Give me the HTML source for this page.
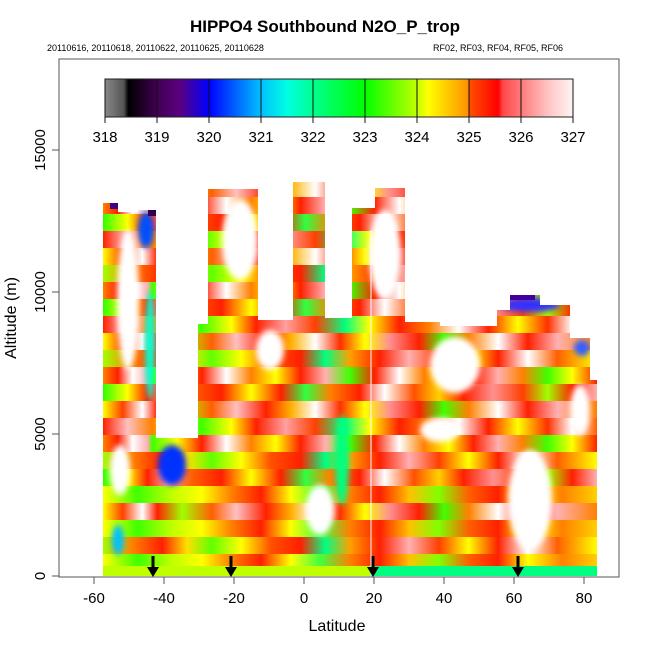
<!DOCTYPE html>
<html><head><meta charset="utf-8"><style>
body{margin:0;background:#fff;}
svg text{font-family:"Liberation Sans",sans-serif;}
</style></head><body>
<svg width="650" height="650" xmlns="http://www.w3.org/2000/svg">
<defs>
<linearGradient id="cb" x1="0" x2="1">
<stop offset="0" stop-color="#888"/><stop offset="0.04" stop-color="#555"/><stop offset="0.05" stop-color="#000"/>
<stop offset="0.111" stop-color="#400050"/><stop offset="0.16" stop-color="#5a0080"/><stop offset="0.222" stop-color="#0000ff"/>
<stop offset="0.333" stop-color="#00c0ff"/><stop offset="0.39" stop-color="#00ffe0"/><stop offset="0.444" stop-color="#00ff90"/>
<stop offset="0.555" stop-color="#00ff00"/><stop offset="0.666" stop-color="#c0ff00"/><stop offset="0.69" stop-color="#ffff00"/>
<stop offset="0.777" stop-color="#ff9000"/><stop offset="0.778" stop-color="#ff5000"/><stop offset="0.84" stop-color="#ff0000"/>
<stop offset="0.85" stop-color="#ff4848"/><stop offset="0.9" stop-color="#ff8888"/><stop offset="0.95" stop-color="#ffc8c8"/><stop offset="1" stop-color="#fff4f4"/>
</linearGradient>
<linearGradient id="g1" gradientUnits="userSpaceOnUse" x1="103" x2="597">
<stop offset="0" stop-color="#ff8000"/><stop offset=".03" stop-color="#ff2000"/><stop offset=".06" stop-color="#fff"/><stop offset=".09" stop-color="#ffb0b0"/><stop offset=".1" stop-color="#40ff00"/><stop offset=".15" stop-color="#ffff00"/><stop offset=".2" stop-color="#ff2000"/><stop offset=".25" stop-color="#fff"/><stop offset=".3" stop-color="#ff8000"/><stop offset=".35" stop-color="#ffff00"/><stop offset=".4" stop-color="#ff2000"/><stop offset=".45" stop-color="#ffb0b0"/><stop offset=".5" stop-color="#40ff00"/><stop offset=".55" stop-color="#ff2000"/><stop offset=".6" stop-color="#fff"/><stop offset=".65" stop-color="#ff8000"/><stop offset=".7" stop-color="#ffff00"/><stop offset=".75" stop-color="#ff2000"/><stop offset=".8" stop-color="#ffb0b0"/><stop offset=".85" stop-color="#ff8000"/><stop offset=".9" stop-color="#40ff00"/><stop offset=".95" stop-color="#ffff00"/><stop offset="1" stop-color="#ff2000"/>
</linearGradient>
<linearGradient id="g2" gradientUnits="userSpaceOnUse" x1="103" x2="597">
<stop offset="0" stop-color="#ffff00"/><stop offset=".04" stop-color="#ff4000"/><stop offset=".08" stop-color="#fff"/><stop offset=".11" stop-color="#ff2000"/><stop offset=".16" stop-color="#a0ff00"/><stop offset=".22" stop-color="#ff6000"/><stop offset=".27" stop-color="#ffc0c0"/><stop offset=".33" stop-color="#ff2000"/><stop offset=".38" stop-color="#ffb000"/><stop offset=".43" stop-color="#fff"/><stop offset=".48" stop-color="#ff3000"/><stop offset=".53" stop-color="#ffff00"/><stop offset=".58" stop-color="#ff9090"/><stop offset=".64" stop-color="#ff2000"/><stop offset=".69" stop-color="#40ff00"/><stop offset=".74" stop-color="#ff8000"/><stop offset=".8" stop-color="#fff"/><stop offset=".86" stop-color="#ff2000"/><stop offset=".92" stop-color="#ffb0b0"/><stop offset="1" stop-color="#ff8000"/>
</linearGradient>
<linearGradient id="g3" gradientUnits="userSpaceOnUse" x1="103" x2="597">
<stop offset="0" stop-color="#30ff00"/><stop offset=".05" stop-color="#ffff00"/><stop offset=".09" stop-color="#ff2000"/><stop offset=".13" stop-color="#ffa0a0"/><stop offset=".18" stop-color="#ff6000"/><stop offset=".24" stop-color="#ff2000"/><stop offset=".3" stop-color="#ffff00"/><stop offset=".36" stop-color="#ff2000"/><stop offset=".41" stop-color="#30ff40"/><stop offset=".46" stop-color="#ff8000"/><stop offset=".52" stop-color="#ff2000"/><stop offset=".57" stop-color="#fff"/><stop offset=".63" stop-color="#ff5000"/><stop offset=".68" stop-color="#ffd000"/><stop offset=".73" stop-color="#ff2000"/><stop offset=".79" stop-color="#ff9090"/><stop offset=".85" stop-color="#ff4000"/><stop offset=".9" stop-color="#a0ff00"/><stop offset=".95" stop-color="#ff2000"/><stop offset="1" stop-color="#ffb0b0"/>
</linearGradient>
<linearGradient id="g4" gradientUnits="userSpaceOnUse" x1="103" x2="597">
<stop offset="0" stop-color="#ff2000"/><stop offset=".05" stop-color="#ffc0c0"/><stop offset=".1" stop-color="#ff8000"/><stop offset=".14" stop-color="#ffff00"/><stop offset=".2" stop-color="#40ff00"/><stop offset=".26" stop-color="#ffff00"/><stop offset=".31" stop-color="#ff2000"/><stop offset=".37" stop-color="#ffa0a0"/><stop offset=".43" stop-color="#ff4000"/><stop offset=".49" stop-color="#00ff80"/><stop offset=".54" stop-color="#ffff00"/><stop offset=".6" stop-color="#ff2000"/><stop offset=".66" stop-color="#ff8000"/><stop offset=".72" stop-color="#ffffff"/><stop offset=".78" stop-color="#ff2000"/><stop offset=".84" stop-color="#ffff00"/><stop offset=".9" stop-color="#ff3000"/><stop offset=".95" stop-color="#fff"/><stop offset="1" stop-color="#ff6000"/>
</linearGradient>
<linearGradient id="g5" gradientUnits="userSpaceOnUse" x1="103" x2="597">
<stop offset="0" stop-color="#a0ff00"/><stop offset=".06" stop-color="#ff8000"/><stop offset=".12" stop-color="#ff2000"/><stop offset=".17" stop-color="#ffe000"/><stop offset=".22" stop-color="#60ff00"/><stop offset=".28" stop-color="#ffff00"/><stop offset=".34" stop-color="#ff5000"/><stop offset=".4" stop-color="#ff2000"/><stop offset=".45" stop-color="#00ff80"/><stop offset=".5" stop-color="#ffa000"/><stop offset=".56" stop-color="#ff2000"/><stop offset=".62" stop-color="#ffb0b0"/><stop offset=".68" stop-color="#ff4000"/><stop offset=".74" stop-color="#ffff00"/><stop offset=".8" stop-color="#ff2000"/><stop offset=".86" stop-color="#fff"/><stop offset=".92" stop-color="#ff6000"/><stop offset="1" stop-color="#ffff00"/>
</linearGradient>
<linearGradient id="g6" gradientUnits="userSpaceOnUse" x1="103" x2="597">
<stop offset="0" stop-color="#ffff00"/><stop offset=".07" stop-color="#40ff00"/><stop offset=".14" stop-color="#c0ff00"/><stop offset=".2" stop-color="#ffff00"/><stop offset=".26" stop-color="#ff8000"/><stop offset=".32" stop-color="#ff2000"/><stop offset=".38" stop-color="#ffff00"/><stop offset=".44" stop-color="#40ff40"/><stop offset=".5" stop-color="#ff8000"/><stop offset=".56" stop-color="#ff2000"/><stop offset=".62" stop-color="#ffc000"/><stop offset=".68" stop-color="#80ff00"/><stop offset=".74" stop-color="#ff6000"/><stop offset=".8" stop-color="#ff2000"/><stop offset=".86" stop-color="#ffff00"/><stop offset=".93" stop-color="#ff8000"/><stop offset="1" stop-color="#ffd000"/>
</linearGradient>
<clipPath id="clip"><path d="M103,576 L103,203 L118,203 L118,212 L138,212 L138,210 L156,210 L156,438 L198,438 L198,324 L208,324 L208,189 L258,189 L258,320 L293,320 L293,182 L325,182 L325,318 L352,318 L352,208 L375,208 L375,188 L405,188 L405,322 L440,322 L440,326 L497,326 L497,310 L510,310 L510,295 L540,295 L540,305 L570,305 L570,338 L590,338 L590,380 L597,380 L597,576 Z"/></clipPath>
<filter id="bl" x="-50%" y="-50%" width="200%" height="200%"><feGaussianBlur stdDeviation="3"/></filter>
</defs>
<rect width="650" height="650" fill="#fff"/>
<g clip-path="url(#clip)">
<rect x="100" y="180" width="500" height="17" fill="url(#g2)"/>
<rect x="100" y="197" width="500" height="17" fill="url(#g1)"/>
<rect x="100" y="214" width="500" height="17" fill="url(#g3)"/>
<rect x="100" y="231" width="500" height="17" fill="url(#g4)"/>
<rect x="100" y="248" width="500" height="17" fill="url(#g2)"/>
<rect x="100" y="265" width="500" height="17" fill="url(#g5)"/>
<rect x="100" y="282" width="500" height="17" fill="url(#g1)"/>
<rect x="100" y="299" width="500" height="17" fill="url(#g3)"/>
<rect x="100" y="316" width="500" height="17" fill="url(#g4)"/>
<rect x="100" y="333" width="500" height="17" fill="url(#g2)"/>
<rect x="100" y="350" width="500" height="17" fill="url(#g5)"/>
<rect x="100" y="367" width="500" height="17" fill="url(#g1)"/>
<rect x="100" y="384" width="500" height="17" fill="url(#g3)"/>
<rect x="100" y="401" width="500" height="17" fill="url(#g2)"/>
<rect x="100" y="418" width="500" height="17" fill="url(#g4)"/>
<rect x="100" y="435" width="500" height="17" fill="url(#g1)"/>
<rect x="100" y="452" width="500" height="17" fill="url(#g5)"/>
<rect x="100" y="469" width="500" height="17" fill="url(#g3)"/>
<rect x="100" y="486" width="500" height="17" fill="url(#g6)"/>
<rect x="100" y="503" width="500" height="17" fill="url(#g2)"/>
<rect x="100" y="520" width="500" height="17" fill="url(#g6)"/>
<rect x="100" y="537" width="500" height="17" fill="url(#g5)"/>
<rect x="100" y="554" width="500" height="12" fill="url(#g6)"/>
<rect x="100" y="566" width="270" height="11" fill="#c0ff00"/>
<rect x="370" y="566" width="230" height="11" fill="#00ff80"/>
<g filter="url(#bl)">
<ellipse cx="128" cy="300" rx="11" ry="70" fill="#fff"/>
<ellipse cx="240" cy="240" rx="18" ry="40" fill="#fff"/>
<ellipse cx="385" cy="255" rx="16" ry="45" fill="#fff"/>
<ellipse cx="455" cy="365" rx="25" ry="28" fill="#fff"/>
<ellipse cx="320" cy="510" rx="14" ry="25" fill="#fff"/>
<ellipse cx="530" cy="500" rx="22" ry="50" fill="#fff"/>
<ellipse cx="440" cy="430" rx="20" ry="12" fill="#fff"/>
<ellipse cx="120" cy="470" rx="10" ry="25" fill="#fff"/>
<ellipse cx="270" cy="350" rx="14" ry="20" fill="#fff"/>
<ellipse cx="580" cy="410" rx="10" ry="25" fill="#fff"/>
<ellipse cx="150" cy="345" rx="5" ry="55" fill="#00ffd0"/>
<ellipse cx="146" cy="230" rx="8" ry="18" fill="#0050ff"/>
<ellipse cx="172" cy="465" rx="14" ry="20" fill="#0030ff"/>
<ellipse cx="342" cy="460" rx="7" ry="45" fill="#00ff80"/>
<ellipse cx="118" cy="540" rx="6" ry="15" fill="#00c0ff"/>
<ellipse cx="530" cy="305" rx="30" ry="7" fill="#3030ff"/>
<ellipse cx="582" cy="348" rx="8" ry="8" fill="#3060ff"/>
</g>
<rect x="110" y="203" width="12" height="6" fill="#400080"/>
<rect x="148" y="210" width="8" height="6" fill="#300050"/>
<rect x="505" y="295" width="30" height="5" fill="#4000a0"/>
</g>
<line x1="371" y1="230" x2="371" y2="576" stroke="#fff"/>
<rect x="59" y="59" width="560" height="518" fill="none" stroke="#555"/>
<text x="325" y="32" font-size="17" font-weight="bold" text-anchor="middle">HIPPO4 Southbound N2O_P_trop</text>
<text x="47" y="51" font-size="9">20110616, 20110618, 20110622, 20110625, 20110628</text>
<text x="563" y="51" font-size="9" text-anchor="end">RF02, RF03, RF04, RF05, RF06</text>
<rect x="105" y="79" width="468" height="38" fill="url(#cb)" stroke="#222"/>
<g stroke="#111">
<line x1="105" y1="79" x2="105" y2="123"/><line x1="157" y1="79" x2="157" y2="123"/><line x1="209" y1="79" x2="209" y2="123"/><line x1="261" y1="79" x2="261" y2="123"/><line x1="313" y1="79" x2="313" y2="123"/><line x1="365" y1="79" x2="365" y2="123"/><line x1="417" y1="79" x2="417" y2="123"/><line x1="469" y1="79" x2="469" y2="123"/><line x1="521" y1="79" x2="521" y2="123"/><line x1="573" y1="79" x2="573" y2="123"/>
</g>
<g font-size="15" text-anchor="middle">
<text x="105" y="142">318</text><text x="157" y="142">319</text><text x="209" y="142">320</text><text x="261" y="142">321</text><text x="313" y="142">322</text><text x="365" y="142">323</text><text x="417" y="142">324</text><text x="469" y="142">325</text><text x="521" y="142">326</text><text x="573" y="142">327</text>
</g>
<g stroke="#555">
<line x1="94" y1="577" x2="94" y2="584"/><line x1="164" y1="577" x2="164" y2="584"/><line x1="234" y1="577" x2="234" y2="584"/><line x1="304" y1="577" x2="304" y2="584"/><line x1="374" y1="577" x2="374" y2="584"/><line x1="444" y1="577" x2="444" y2="584"/><line x1="514" y1="577" x2="514" y2="584"/><line x1="584" y1="577" x2="584" y2="584"/>
<line x1="52" y1="576" x2="59" y2="576"/><line x1="52" y1="434" x2="59" y2="434"/><line x1="52" y1="292" x2="59" y2="292"/><line x1="52" y1="150" x2="59" y2="150"/>
</g>
<g font-size="15" text-anchor="middle">
<text x="94" y="603">-60</text><text x="164" y="603">-40</text><text x="234" y="603">-20</text><text x="304" y="603">0</text><text x="374" y="603">20</text><text x="444" y="603">40</text><text x="514" y="603">60</text><text x="584" y="603">80</text>
<text transform="translate(45,576) rotate(-90)">0</text>
<text transform="translate(45,434) rotate(-90)">5000</text>
<text transform="translate(45,292) rotate(-90)">10000</text>
<text transform="translate(45,150) rotate(-90)">15000</text>
</g>
<g stroke="#000" stroke-width="3">
<line x1="153" y1="556" x2="153" y2="570"/><line x1="231" y1="556" x2="231" y2="570"/><line x1="373" y1="556" x2="373" y2="570"/><line x1="518" y1="556" x2="518" y2="570"/>
</g>
<g fill="#000">
<polygon points="147,567 159,567 153,577"/><polygon points="225,567 237,567 231,577"/><polygon points="367,567 379,567 373,577"/><polygon points="512,567 524,567 518,577"/>
</g>
<text x="337" y="631" font-size="16" text-anchor="middle">Latitude</text>
<text transform="translate(16,318) rotate(-90)" font-size="16" text-anchor="middle">Altitude (m)</text>
</svg>
</body></html>
